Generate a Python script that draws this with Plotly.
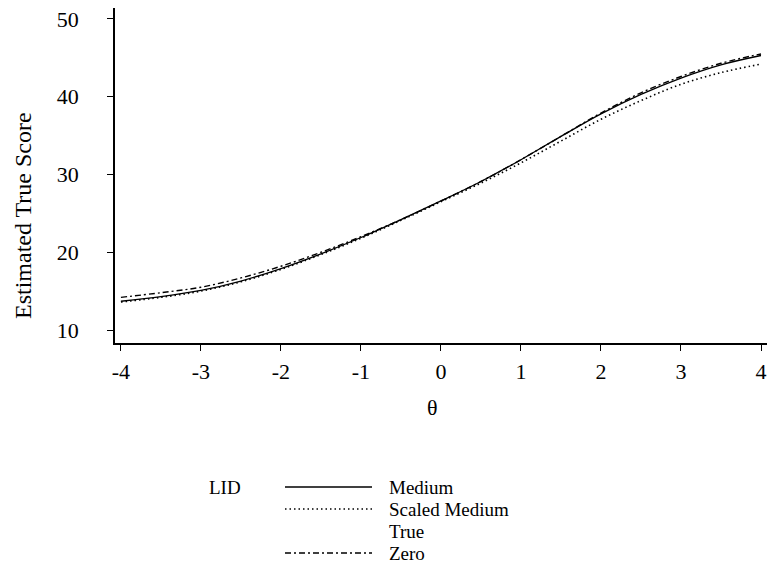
import plotly.graph_objects as go

theta = [-4, -3.5, -3, -2.5, -2, -1.5, -1, -0.5, 0, 0.5, 1, 1.5, 2, 2.5, 3, 3.5, 4]
medium = [13.7, 14.3, 15.1, 16.3, 17.9, 19.8, 21.9, 24.2, 26.6, 29.1, 31.9, 34.9, 37.8, 40.3, 42.4, 44.1, 45.3]
scaled_medium = [13.6, 14.2, 15.0, 16.2, 17.8, 19.7, 21.8, 24.1, 26.5, 28.9, 31.5, 34.3, 37.1, 39.5, 41.6, 43.1, 44.2]
true_lid = [13.8, 14.4, 15.2, 16.4, 18.0, 19.9, 21.9, 24.2, 26.6, 29.1, 31.9, 34.9, 37.8, 40.4, 42.5, 44.2, 45.4]
zero = [14.2, 14.8, 15.5, 16.7, 18.2, 20.0, 22.0, 24.2, 26.6, 29.1, 31.9, 34.9, 37.9, 40.5, 42.6, 44.3, 45.5]

x_ticks = [-4, -3, -2, -1, 0, 1, 2, 3, 4]
y_ticks = [10, 20, 30, 40, 50]
legend_names = ["Medium", "Scaled Medium", "True", "Zero"]

W, H = 767, 582
L, R, T, B = 115, 0, 8, 239
pw, ph = W - L - R, H - T - B

def px(x):
    return (x - L) / pw

def py(y):
    return (H - B - y) / ph

FONT = "Liberation Serif, Times New Roman, serif"
styles = {
    "Medium": dict(color="black", width=1.3, dash="solid"),
    "Scaled Medium": dict(color="black", width=1.6, dash="1.5px,3px"),
    "True": dict(color="rgba(0,0,0,0)", width=1.3, dash="solid"),
    "Zero": dict(color="black", width=1.4, dash="6px,3px,2px,3px"),
}
series = {"True": true_lid, "Medium": medium, "Scaled Medium": scaled_medium, "Zero": zero}

fig = go.Figure()
for name, vals in series.items():
    fig.add_trace(go.Scatter(x=theta, y=vals, mode="lines", name=name,
                             line=dict(shape="spline", smoothing=1.0, **styles[name]),
                             showlegend=False, hoverinfo="skip", cliponaxis=False))

fig.update_layout(
    width=W, height=H,
    margin=dict(l=L, r=R, t=T, b=B, pad=0, autoexpand=False),
    plot_bgcolor="white", paper_bgcolor="white",
    font=dict(family=FONT, size=22, color="black"),
    showlegend=False,
)
fig.update_xaxes(range=[-4.074, 4.075], tickvals=x_ticks, ticktext=[str(v) for v in x_ticks],
                 showgrid=False, zeroline=False, showline=True, linecolor="black", linewidth=1.5,
                 ticks="outside", ticklen=6, tickwidth=1.2, tickcolor="black",
                 ticklabelstandoff=2, automargin=False, tickfont=dict(size=22),
                 ticklabeloverflow="allow")
fig.update_yaxes(range=[8.33, 51.41], tickvals=y_ticks, ticktext=[str(v) for v in y_ticks],
                 showgrid=False, zeroline=False, showline=True, linecolor="black", linewidth=1.5,
                 ticks="outside", ticklen=6, tickwidth=1.2, tickcolor="black",
                 ticklabelstandoff=24, automargin=False, tickfont=dict(size=22),
                 ticklabeloverflow="allow")

ann = [
    dict(x=px(432), y=py(407), text="θ", showarrow=False, xanchor="center", yanchor="middle",
         font=dict(size=22)),
    dict(x=px(23), y=py(216), text="Estimated True Score", showarrow=False, textangle=-90,
         xanchor="center", yanchor="middle", font=dict(size=24)),
    dict(x=px(225), y=py(487), text="LID", showarrow=False, xanchor="center", yanchor="middle",
         font=dict(size=19)),
]
rows = [487, 509, 531, 553]
shapes = []
for name, yy in zip(legend_names, rows):
    ann.append(dict(x=px(387), y=py(yy), text=name, showarrow=False, xanchor="left", yanchor="middle",
                    font=dict(size=19)))
    st = styles[name]
    shapes.append(dict(type="line", xref="paper", yref="paper", x0=px(285), x1=px(372),
                       y0=py(yy), y1=py(yy), line=dict(color=st["color"], width=st["width"], dash=st["dash"])))
for a in ann:
    a.update(xref="paper", yref="paper")
fig.update_layout(annotations=ann, shapes=shapes)

fig.write_html("out.html", config={"displayModeBar": False},
               post_script="document.body.style.margin='0';document.body.style.overflow='hidden';")
